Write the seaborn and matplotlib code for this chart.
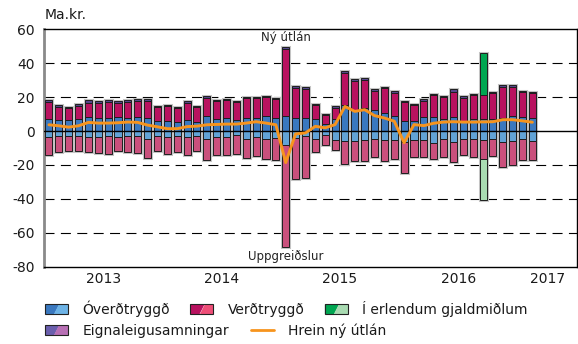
import numpy as np
import pandas as pd
import seaborn as sns
import matplotlib
matplotlib.use("Agg")
import matplotlib.pyplot as plt
from matplotlib.legend_handler import HandlerBase
from matplotlib.patches import Polygon, Rectangle
from matplotlib.lines import Line2D

# Monthly new lending, Jan 2013 - Feb 2017 (ma.kr.)
months = pd.period_range("2013-01", "2017-02", freq="M").astype(str).tolist()

ovt_pos = [7.4, 6.4, 6.8, 7.2, 8.2, 7.6, 7.6, 8.0, 7.8, 8.2, 7.6, 6.0,
           5.8, 5.5, 6.6, 5.1, 8.6, 7.0, 7.6, 6.6, 7.8, 7.6, 8.6, 7.6,
           9.1, 7.7, 7.7, 7.1, 4.2, 7.1, 15.5, 12.6, 13.5, 12.6, 10.6, 9.1,
           5.9, 5.8, 8.3, 8.1, 7.3, 8.3, 5.8, 7.1, 7.1, 7.3, 7.7, 9.1,
           8.3, 7.7]
vtr_pos = [9.7, 8.0, 6.6, 7.8, 8.6, 8.8, 9.7, 8.4, 9.6, 9.6, 10.3, 8.0,
           9.2, 7.8, 10.1, 9.0, 10.7, 10.5, 10.5, 10.3, 11.7, 11.9, 11.7, 11.1,
           39.1, 17.9, 17.3, 8.2, 5.3, 6.2, 18.5, 16.7, 16.5, 11.1, 14.6, 13.6,
           11.2, 9.5, 9.5, 12.9, 12.7, 15.0, 13.8, 13.9, 14.2, 15.0, 18.5, 17.1,
           14.8, 14.6]
eign_pos = [1.2, 1.0, 1.0, 0.8, 1.6, 1.4, 1.2, 1.4, 1.0, 1.0, 1.0, 1.0,
            0.6, 0.8, 0.8, 0.8, 1.4, 0.8, 0.8, 0.8, 0.8, 0.8, 0.6, 0.8,
            1.4, 1.0, 1.0, 0.8, 0.8, 1.6, 1.4, 1.2, 1.1, 1.0, 1.0, 1.0,
            0.9, 0.8, 1.0, 0.7, 0.8, 1.4, 0.8, 0.7, 0.0, 1.0, 1.0, 0.8,
            0.8, 0.6]
ovt_neg = [-3.7, -3.1, -3.1, -2.7, -3.5, -3.5, -3.1, -3.5, -2.7, -3.1, -4.7, -3.1,
           -3.7, -3.1, -3.5, -2.7, -4.7, -3.5, -3.5, -2.5, -4.7, -3.7, -4.5, -4.1,
           -8.5, -4.0, -3.0, -4.6, -2.6, -5.0, -5.6, -5.7, -5.0, -4.6, -5.4, -5.0,
           -6.5, -5.0, -5.4, -6.9, -4.6, -6.5, -4.6, -4.6, -5.4, -4.6, -6.5, -5.9,
           -4.6, -5.6]
vtr_neg = [-10.7, -9.0, -8.8, -8.8, -9.0, -9.4, -10.3, -8.4, -9.4, -9.6, -11.3, -8.8,
           -10.1, -9.2, -10.7, -9.0, -12.1, -10.9, -10.9, -10.9, -11.1, -11.1, -11.9, -12.7,
           -59.8, -24.0, -24.4, -7.8, -5.5, -6.2, -14.0, -11.9, -12.6, -10.5, -12.2, -11.7,
           -18.5, -10.1, -9.7, -9.8, -10.5, -11.7, -9.7, -10.5, -10.9, -10.1, -14.5, -14.3,
           -12.5, -11.7]
erl_months = ["2016-09"]
erl_pos = [25.0]
erl_neg = [-24.2]
net = [3.7, 3.1, 2.3, 3.1, 5.1, 4.7, 4.7, 4.9, 5.3, 5.1, 3.5, 2.5,
       1.4, 1.4, 2.6, 2.9, 3.7, 3.9, 4.1, 4.1, 4.7, 5.5, 4.7, 3.7,
       -18.6, -1.7, -1.1, 2.8, 1.9, 3.8, 14.5, 11.6, 12.6, 9.1, 7.7, 5.8,
       -6.9, 3.8, 3.2, 4.6, 5.3, 5.5, 5.3, 5.3, 5.4, 5.5, 6.7, 6.7,
       6.0, 5.2]

year_labels = ["2013", "2014", "2015", "2016", "2017"]

C_OVT = ("#3a78bf", "#62a3d6")
C_VTR = ("#b8125f", "#c9507c")
C_ERL = ("#00a651", "#a9dbb2")
C_EIGN = "#55478c"
C_NET = "#f7941d"
EDGE = "#1e1e1e"

sns.set_style("white")
plt.rcParams["font.family"] = ["DejaVu Sans"]
plt.rcParams["lines.scale_dashes"] = False

fig = plt.figure(figsize=(5.78, 3.44), dpi=100)
ax = fig.add_axes([0.0761, 0.2247, 0.9218, 0.6901])

x = np.arange(len(months)) + 0.5
a_ovt_pos = np.array(ovt_pos)
a_vtr_pos = np.array(vtr_pos)
a_eign = np.array(eign_pos)
a_ovt_neg = np.array(ovt_neg)
a_vtr_neg = np.array(vtr_neg)
erl_idx = [months.index(m) for m in erl_months]
erl_x = x[erl_idx]

stack_top = a_ovt_pos + a_vtr_pos + a_eign
stack_low = a_ovt_neg + a_vtr_neg
full_top = stack_top.copy()
full_low = stack_low.copy()
full_top[erl_idx] += np.array(erl_pos)
full_low[erl_idx] += np.array(erl_neg)

bar_kw = dict(native_scale=True, width=0.72, saturation=1, errorbar=None, ax=ax)
seg_kw = dict(edgecolor=EDGE, linewidth=0.7, zorder=3, **bar_kw)

# soft grey halo behind each full column
sns.barplot(x=x, y=full_top - full_low, bottom=full_low, fill=False,
            color="#c4c4c4", linewidth=2.2, zorder=2, **bar_kw)

layers = [
    (a_ovt_pos, np.zeros_like(x), C_OVT[0]),
    (a_vtr_pos, a_ovt_pos, C_VTR[0]),
    (a_eign, a_ovt_pos + a_vtr_pos, C_EIGN),
    (a_ovt_neg, np.zeros_like(x), C_OVT[1]),
    (a_vtr_neg, a_ovt_neg, C_VTR[1]),
]
for heights, base, col in layers:
    sns.barplot(x=x, y=heights, bottom=base, color=col, **seg_kw)

sns.barplot(x=erl_x, y=erl_pos, bottom=stack_top[erl_idx], color=C_ERL[0], **seg_kw)
sns.barplot(x=erl_x, y=erl_neg, bottom=stack_low[erl_idx], color=C_ERL[1], **seg_kw)

sns.lineplot(x=x, y=net, color=C_NET, linewidth=2.1, ax=ax, zorder=5)

# grid and zero line
for v in (40, 20, -20, -40, -60):
    ax.axhline(v, color="black", linewidth=0.8, dashes=(7.2, 4.6), zorder=1)
ax.axhline(0, color="black", linewidth=1.0, zorder=4)

ax.set_xlim(0, 54)
ax.set_ylim(-80, 60)
ax.set_yticks(range(-80, 61, 20))
ax.set_yticklabels([str(v) for v in range(-80, 61, 20)])
ax.set_xticks([0, 12, 24, 36, 48, 54])
ax.set_xticklabels([])
ax.set_xticks([6, 18, 30, 42, 51], minor=True)
ax.set_xticklabels(year_labels, minor=True)
ax.tick_params(axis="x", which="major", length=5.5, width=1, color="black", direction="out")
ax.tick_params(axis="x", which="minor", length=0, pad=3.5, labelsize=10, colors="#1a1a1a")
ax.tick_params(axis="y", length=0, pad=6.5, labelsize=10, colors="#1a1a1a")
ax.set_xlabel("")
ax.set_ylabel("")

for side in ("top", "right", "bottom"):
    ax.spines[side].set_visible(True)
    ax.spines[side].set_color("black")
    ax.spines[side].set_linewidth(1.0)
ax.spines["left"].set_color("#8a8a8a")
ax.spines["left"].set_linewidth(2.0)

ax.text(24.5, 55, "Ný útlán", ha="center", va="center", fontsize=8.5, color="#222222")
ax.text(24.5, -73.8, "Uppgreiðslur", ha="center", va="center", fontsize=8.5, color="#222222")
fig.text(0.078, 0.956, "Ma.kr.", ha="left", va="center", fontsize=10, color="#1a1a1a")


class Swatch:
    def __init__(self, dark, light):
        self.dark = dark
        self.light = light


class SwatchHandler(HandlerBase):
    def create_artists(self, legend, orig_handle, xdescent, ydescent,
                       width, height, fontsize, trans):
        x0, y0 = -xdescent, -ydescent
        x1, y1 = x0 + width, y0 + height
        xa, xb = x0 + 0.40 * width, x0 + 0.62 * width
        dark = Polygon([[x0, y0], [xa, y0], [xb, y1], [x0, y1]], closed=True,
                       facecolor=orig_handle.dark, edgecolor="none", transform=trans)
        light = Polygon([[xa, y0], [x1, y0], [x1, y1], [xb, y1]], closed=True,
                        facecolor=orig_handle.light, edgecolor="none", transform=trans)
        frame = Rectangle((x0, y0), width, height, facecolor="none",
                          edgecolor="#222222", linewidth=0.8, transform=trans)
        return [dark, light, frame]


leg_kw = dict(frameon=False, fontsize=10, handlelength=1.65, handleheight=0.72,
              handletextpad=1.05, borderpad=0, borderaxespad=0, loc="center left",
              handler_map={Swatch: SwatchHandler()}, labelcolor="#1a1a1a")

row1 = [Swatch("#3a78bf", "#6db3e6"), Swatch("#b8125f", "#ee4e77"), Swatch("#00a651", "#a9dbb2")]
fig.legend(row1, ["Óverðtryggð", "Verðtryggð", "Í erlendum gjaldmiðlum"], ncol=3,
           columnspacing=1.45, bbox_to_anchor=(0.078, 0.102), **leg_kw)
row2 = [Swatch("#6a5fad", "#b870b5"), Line2D([], [], color=C_NET, linewidth=2.0)]
fig.legend(row2, ["Eignaleigusamningar", "Hrein ný útlán"], ncol=2,
           columnspacing=1.55, bbox_to_anchor=(0.078, 0.038), **leg_kw)

fig.savefig("out.png", dpi=100)
